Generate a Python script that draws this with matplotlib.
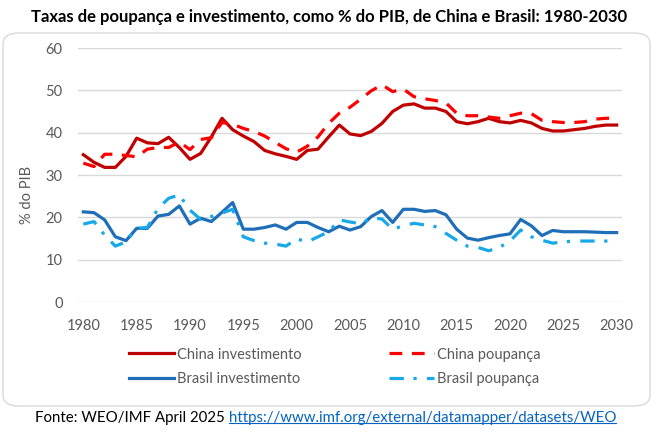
import matplotlib
matplotlib.use("Agg")
import matplotlib.pyplot as plt
from matplotlib.patches import FancyBboxPatch
from matplotlib.lines import Line2D

plt.rcParams['font.family'] = ['Lato', 'DejaVu Sans']

years = list(range(1980, 2031))
china_inv = [34.8, 33.0, 31.8, 31.8, 34.4, 38.7, 37.6, 37.4, 38.9, 36.5,
             33.7, 35.1, 39.0, 43.4, 40.7, 39.2, 37.9, 35.8, 35.0, 34.4,
             33.7, 35.8, 36.1, 39.0, 41.8, 39.7, 39.3, 40.3, 42.2, 45.0,
             46.5, 46.8, 45.8, 45.8, 45.0, 42.6, 42.1, 42.6, 43.4, 42.6,
             42.3, 42.9, 42.3, 41.0, 40.4, 40.4, 40.7, 41.0, 41.5, 41.8, 41.8]
china_sav = [32.8, 32.0, 34.9, 34.9, 34.6, 34.3, 36.1, 36.5, 36.5, 37.8,
             36.0, 38.4, 38.8, 42.4, 42.0, 41.0, 40.3, 39.2, 37.7, 36.2,
             35.4, 36.8, 39.0, 42.2, 44.6, 46.0, 47.9, 49.9, 51.3, 49.7,
             50.3, 48.5, 48.0, 47.6, 47.0, 44.6, 44.0, 44.0, 43.7, 43.4,
             44.0, 44.6, 44.5, 42.9, 42.6, 42.4, 42.4, 42.6, 43.2, 43.4, 43.4]
brazil_inv = [21.3, 21.1, 19.4, 15.4, 14.5, 17.4, 17.4, 20.3, 20.7, 22.7,
              18.4, 19.8, 19.0, 21.2, 23.5, 17.2, 17.2, 17.6, 18.2, 17.2,
              18.8, 18.8, 17.6, 16.6, 17.9, 17.0, 17.8, 20.2, 21.6, 18.8,
              21.9, 21.9, 21.4, 21.6, 20.6, 17.2, 15.1, 14.6, 15.2, 15.7,
              16.1, 19.5, 18.0, 15.7, 16.9, 16.6, 16.6, 16.6, 16.5, 16.4, 16.4]
brazil_sav = [18.4, 19.0, 15.8, 13.2, 14.2, 17.4, 17.6, 22.1, 24.5, 25.3,
              21.7, 19.5, 20.2, 21.0, 21.9, 15.4, 14.5, 13.9, 13.7, 13.2,
              14.9, 14.2, 15.4, 16.6, 19.4, 18.9, 18.5, 19.9, 19.6, 17.2,
              18.0, 18.6, 18.2, 17.8, 16.2, 14.6, 13.2, 12.9, 12.1, 12.9,
              14.4, 17.0, 15.4, 14.6, 13.9, 14.2, 14.4, 14.4, 14.4, 14.4, 14.4]
series_labels = ["China investimento", "China poupança",
                 "Brasil investimento", "Brasil poupança"]
yticks = [0, 10, 20, 30, 40, 50, 60]
xticks = [1980, 1985, 1990, 1995, 2000, 2005, 2010, 2015, 2020, 2025, 2030]

W, H = 656, 436
fig = plt.figure(figsize=(W / 100, H / 100), dpi=100)

def fx(px):
    return px / W

def fy(py):
    return 1 - py / H

# rounded chart border
box = FancyBboxPatch((fx(3), fy(406)), fx(650) - fx(3), fy(33) - fy(406),
                     boxstyle="round,pad=0,rounding_size=0.025",
                     transform=fig.transFigure, facecolor="white",
                     edgecolor="#D9D9D9", linewidth=1.0, zorder=-5)
fig.patches.append(box)

ax = fig.add_axes([fx(78), fy(302), fx(622) - fx(78), fy(48) - fy(302)])
ax.set_zorder(2)
ax.set_facecolor("none")
ax.set_xlim(1979.5, 2030.5)
ax.set_ylim(0, 60)
ax.set_yticks(yticks)
ax.set_xticks(xticks)
ax.grid(axis="y", color="#D9D9D9", linewidth=1.0)
ax.set_axisbelow(True)
for s in ax.spines.values():
    s.set_visible(False)
ax.tick_params(axis="both", length=0, labelsize=10.5, labelcolor="#595959")
ax.tick_params(axis="y", pad=11)
ax.tick_params(axis="x", pad=12)

lw = 2.3
l1, = ax.plot(years, china_inv, color="#C00000", lw=lw, solid_joinstyle="round",
              label=series_labels[0])
l2, = ax.plot(years, china_sav, color="#FF0000", lw=lw, linestyle=(0, (4, 3)),
              label=series_labels[1])
l3, = ax.plot(years, brazil_inv, color="#1F6EB8", lw=lw, solid_joinstyle="round",
              label=series_labels[2])
l4, = ax.plot(years, brazil_sav, color="#16A8E8", lw=lw,
              linestyle=(0, (4.5, 3, 1, 3.2)), label=series_labels[3])

fig.text(fx(27), fy(195), "% do PIB", rotation=90, ha="center", va="center",
         fontsize=10.5, color="#595959")

fig.text(fx(329), fy(17), "Taxas de poupança e investimento, como % do PIB, de China e Brasil: 1980-2030",
         ha="center", va="center", fontsize=12, fontweight="bold", color="black")

leg = fig.legend(handles=[l1, l3, l2, l4], labels=[series_labels[0], series_labels[2],
                                                  series_labels[1], series_labels[3]],
                 ncol=2, loc="center", bbox_to_anchor=(fx(335), fy(367)),
                 frameon=False, fontsize=10.5, handlelength=3.1, handletextpad=0.2,
                 columnspacing=6.0, labelspacing=0.75, labelcolor="#595959")

# footer
t1 = fig.text(fx(35), fy(418), "Fonte: WEO/IMF April 2025 ", ha="left", va="center",
              fontsize=10.8, color="black")
fig.canvas.draw()
r = fig.canvas.get_renderer()
bb = t1.get_window_extent(renderer=r)
t2 = fig.text(bb.x1 / W, fy(418), "https://www.imf.org/external/datamapper/datasets/WEO",
              ha="left", va="center", fontsize=10.8, color="#0563C1")
fig.canvas.draw()
bb2 = t2.get_window_extent(renderer=r)
uy = bb2.y0 + 2
fig.add_artist(Line2D([bb2.x0 / W, bb2.x1 / W], [uy / H, uy / H],
                      transform=fig.transFigure, color="#0563C1", lw=0.8))

fig.savefig("out.png", dpi=100)
